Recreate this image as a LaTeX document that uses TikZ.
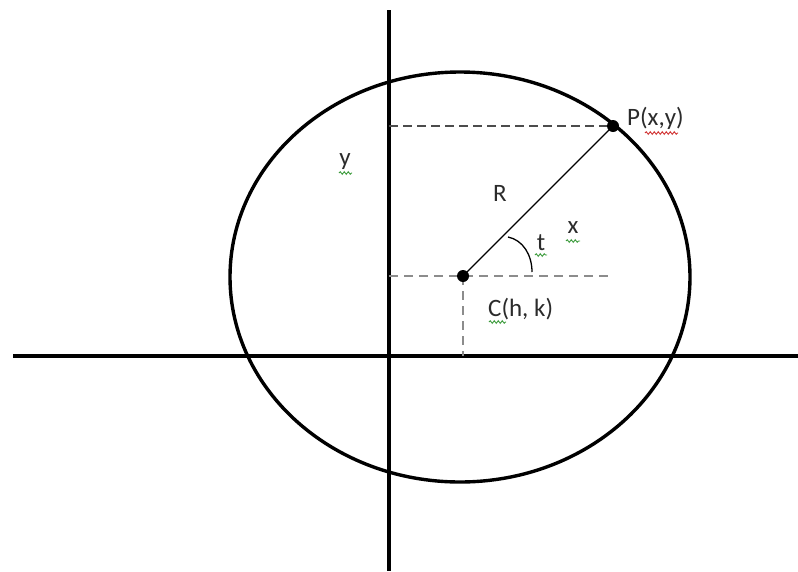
\documentclass[tikz,border=0pt]{standalone}
\usepackage{fontspec}
\setmainfont{Carlito}
\usetikzlibrary{decorations.pathmorphing}
\definecolor{txt}{HTML}{2B2B2B}
\definecolor{spellg}{HTML}{3A9A3A}
\definecolor{spellr}{HTML}{D03030}
\tikzset{
  axis/.style={line width=3.6pt, draw=black},
  curve/.style={line width=3.4pt, draw=black},
  guide/.style={dash pattern=on 9pt off 6pt, line width=1.8pt, draw=black!45},
  guidedk/.style={dash pattern=on 9pt off 5pt, line width=1.4pt, draw=black!70},
  rline/.style={line width=1.3pt, draw=black},
  dot/.style={circle, fill=black, inner sep=0pt, minimum size=12pt},
  lbl/.style={font=\fontsize{25}{28}\selectfont, text=txt, inner sep=0pt},
  squig/.style={decorate, decoration={snake, segment length=4pt, amplitude=1.3pt}, line width=0.9pt}
}
\begin{document}
\begin{tikzpicture}[x=1pt,y=-1pt]
\useasboundingbox (0,0) rectangle (798,571);
% axes
\coordinate (ytop) at (389,10);
\coordinate (ybot) at (389,571);
\coordinate (xlft) at (13,356);
\coordinate (xrgt) at (798,356);
\draw[axis] (ytop) -- (ybot);
\draw[axis] (xlft) -- (xrgt);
% ellipse
\draw[curve] (460,277) ellipse [x radius=230pt, y radius=205pt];
% centre and point
\coordinate (cy) at (389,276);
\coordinate (cx) at (608,276);
\coordinate (ch) at (463,356);
\coordinate (py) at (389,126);
\draw[guide] (cy) -- (cx);
\draw[guide] (463,276) -- (ch);
\draw[guidedk] (py) -- (613,126);
\node[dot] (c) at (463,276) {};
\node[dot] (p) at (613,126) {};
\draw[rline] (c.center) -- (p.center);
% angle t
\draw[rline] (508,237) .. controls (523,240) and (532,255) .. (532,272);
% labels
\node[lbl, anchor=west] (plbl) at (627,118) {P(x,y)};
\node[lbl] (rlbl) at (500,193) {R};
\node[lbl] (tlbl) at (541,243) {t};
\node[lbl] (xlbl) at (573,228) {x};
\node[lbl] (ylbl) at (345,162) {y};
\node[lbl, anchor=west] (clbl) at (488,309) {C(h, k)};
% spelling marks
\draw[squig, spellr] (645,133) -- (678,133);
\draw[squig, spellg] (339,173) -- (352,173);
\draw[squig, spellg] (566,241) -- (580,241);
\draw[squig, spellg] (535,255) -- (547,255);
\draw[squig, spellg] (489,322) -- (506,322);
\end{tikzpicture}
\end{document}
